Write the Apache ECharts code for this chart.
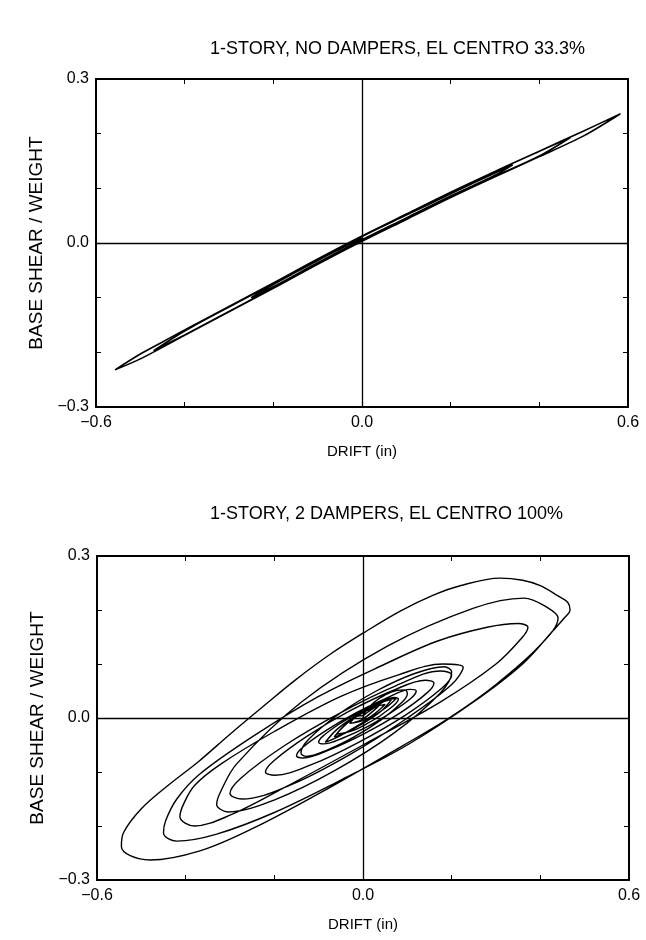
<!DOCTYPE html>
<html><head><meta charset="utf-8">
<script src="https://cdn.jsdelivr.net/npm/echarts@6/dist/echarts.min.js"></script>
<style>html,body{margin:0;padding:0;background:#fff}#c{width:646px;height:940px}</style>
</head><body><div id="c"></div>
<script>
const titleTop = '1-STORY, NO DAMPERS, EL CENTRO 33.3%';
const titleBottom = '1-STORY, 2 DAMPERS, EL CENTRO 100%';
const xName = 'DRIFT (in)';
const yName = 'BASE SHEAR / WEIGHT';
const xTickLabels = {'-0.6':'\u22120.6','0':'0.0','0.6':'0.6'};
const yTickLabels = {'-0.3':'\u22120.3','0':'0.0','0.3':'0.3'};

const topDrift = [0.00,0.10,0.20,0.30,0.40,0.50,0.582,0.50,0.40,0.30,0.20,0.10,0.00,-0.10,-0.20,-0.30,-0.40,-0.50,-0.557,-0.50,-0.45,-0.40,-0.30,-0.20,-0.10,0.00,0.10,0.20,0.30,0.40,0.47,0.40,0.30,0.20,0.10,0.00,-0.10,-0.20,-0.30,-0.40,-0.47,-0.40,-0.30,-0.20,-0.10,0.00,0.10,0.20,0.30,0.34,0.30,0.20,0.10,0.00,-0.10,-0.20,-0.25,-0.20,-0.10,0.00];
const topShear = [0.012,0.052,0.092,0.131,0.168,0.205,0.236,0.196,0.158,0.121,0.083,0.043,0.003,-0.039,-0.083,-0.126,-0.169,-0.212,-0.232,-0.203,-0.181,-0.159,-0.116,-0.073,-0.029,0.013,0.053,0.093,0.131,0.168,0.193,0.159,0.122,0.084,0.044,0.004,-0.038,-0.082,-0.125,-0.168,-0.197,-0.161,-0.117,-0.074,-0.030,0.012,0.051,0.090,0.128,0.143,0.124,0.086,0.046,0.006,-0.036,-0.080,-0.100,-0.076,-0.032,0.009];

const botDrift = [0.00,0.005,0.025,0.05,0.075,0.095,0.10,
 0.088,0.04,-0.02,-0.08,-0.128,-0.14,
 -0.123,-0.055,0.03,0.115,0.183,0.20,
 0.174,0.068,-0.065,-0.198,-0.304,-0.33,
 -0.322,-0.285,-0.138,0.055,0.248,0.363,0.417,0.44,
 0.40,0.30,0.194,0.05,-0.10,-0.25,-0.368,-0.48,-0.525,-0.545,
 -0.54,-0.50,-0.44,-0.37,-0.30,-0.22,-0.15,-0.074,0.00,0.084,0.16,0.219,0.309,0.36,0.40,0.44,0.462,0.467,
 0.455,0.43,0.36,0.25,0.10,-0.05,-0.20,-0.33,-0.42,-0.45,
 -0.445,-0.42,-0.37,-0.25,-0.10,0.05,0.17,0.28,0.35,0.372,
 0.36,0.30,0.175,0.00,-0.18,-0.30,-0.38,-0.413,
 -0.405,-0.38,-0.32,-0.20,-0.05,0.08,0.18,0.226,
 0.20,0.10,-0.03,-0.163,-0.273,-0.30,
 -0.275,-0.175,-0.05,0.075,0.175,0.20,
 0.179,0.095,-0.01,-0.115,-0.199,-0.22,
 -0.201,-0.125,-0.03,0.065,0.141,0.16,
 0.145,0.083,0.005,-0.073,-0.135,-0.15,
 -0.137,-0.083,-0.015,0.053,0.107,0.12,
 0.109,0.065,0.01,-0.045,-0.089,-0.10,
 -0.091,-0.055,-0.01,0.035,0.071,0.08,
 0.045,0.01,-0.025,-0.06,
 -0.033,-0.005,0.023,0.05,
 0.01,-0.03,-0.015,0.00,
 0.03,0.06,0.075,
 0.05,0.00,-0.05,-0.085,
 -0.06,-0.02,0.03,0.065,
 0.04,0.00,-0.04,-0.065,
 -0.04,0.00,0.035,
 0.00,-0.02];
const botShear = [0.00,0.011,0.029,0.043,0.051,0.052,0.045,
 0.029,-0.004,-0.035,-0.059,-0.071,-0.065,
 -0.040,0.007,0.050,0.082,0.095,0.085,
 0.046,-0.029,-0.098,-0.151,-0.174,-0.160,
 -0.138,-0.085,0.030,0.133,0.203,0.222,0.204,0.185,
 0.135,0.062,0.000,-0.070,-0.140,-0.205,-0.246,-0.263,-0.255,-0.238,
 -0.212,-0.168,-0.125,-0.080,-0.030,0.025,0.072,0.118,0.157,0.198,0.228,0.245,0.259,0.255,0.245,0.226,0.214,0.200,
 0.186,0.163,0.100,0.030,-0.050,-0.115,-0.175,-0.215,-0.228,-0.213,
 -0.190,-0.150,-0.105,-0.035,0.040,0.100,0.143,0.168,0.175,0.168,
 0.150,0.100,0.030,-0.050,-0.130,-0.180,-0.200,-0.183,
 -0.160,-0.125,-0.085,-0.025,0.040,0.080,0.100,0.094,
 0.062,0.000,-0.068,-0.124,-0.150,-0.140,
 -0.111,-0.050,0.010,0.060,0.087,0.080,
 0.056,0.005,-0.045,-0.086,-0.106,-0.100,
 -0.079,-0.033,0.013,0.050,0.070,0.065,
 0.047,0.009,-0.028,-0.058,-0.074,-0.070,
 -0.055,-0.023,0.010,0.037,0.053,0.050,
 0.037,0.011,-0.016,-0.037,-0.048,-0.045,
 -0.034,-0.012,0.010,0.028,0.038,0.035,
 0.008,-0.010,-0.024,-0.030,
 -0.008,0.008,0.020,0.025,
 -0.001,-0.010,0.003,0.005,
 0.022,0.035,0.036,
 0.018,-0.008,-0.032,-0.045,
 -0.022,0.002,0.025,0.035,
 0.012,-0.010,-0.028,-0.035,
 -0.012,0.010,0.022,
 -0.002,-0.008];

const FONT = '"Liberation Sans",Arial,sans-serif';
const tickKey = v => String(Math.round(v*10)/10);
function xAxes(gi){
  return [{
    type:'value', gridIndex:gi, min:-0.6, max:0.6, interval:0.2, position:'bottom',
    name:xName, nameLocation:'middle', nameGap:37,
    nameTextStyle:{color:'#000',fontSize:15,fontFamily:FONT},
    axisLine:{onZero:false,lineStyle:{color:'#000',width:2}},
    axisTick:{inside:true,length:5,lineStyle:{color:'#000',width:1}},
    axisLabel:{color:'#000',fontSize:16,fontFamily:FONT,margin:8,showMinLabel:true,showMaxLabel:true,
      formatter:v=>xTickLabels[tickKey(v)]||''},
    splitLine:{show:false}
  },{
    type:'value', gridIndex:gi, min:-0.6, max:0.6, interval:0.2, position:'top',
    axisLine:{onZero:false,lineStyle:{color:'#000',width:2}},
    axisTick:{inside:true,length:5,lineStyle:{color:'#000',width:1}},
    axisLabel:{show:false}, splitLine:{show:false}
  }];
}
function yAxes(gi){
  return [{
    type:'value', gridIndex:gi, min:-0.3, max:0.3, interval:0.1, position:'left',
    name:yName, nameLocation:'middle', nameGap:50, nameRotate:90,
    nameTextStyle:{color:'#000',fontSize:19,fontFamily:FONT},
    axisLine:{onZero:false,lineStyle:{color:'#000',width:2}},
    axisTick:{inside:true,length:5,lineStyle:{color:'#000',width:1}},
    axisLabel:{color:'#000',fontSize:16,fontFamily:FONT,margin:7,showMinLabel:true,showMaxLabel:true,
      formatter:v=>yTickLabels[tickKey(v)]||''},
    splitLine:{show:false}
  },{
    type:'value', gridIndex:gi, min:-0.3, max:0.3, interval:0.1, position:'right',
    axisLine:{onZero:false,lineStyle:{color:'#000',width:2}},
    axisTick:{inside:true,length:5,lineStyle:{color:'#000',width:1}},
    axisLabel:{show:false}, splitLine:{show:false}
  }];
}
const zeroLines = {silent:true,symbol:'none',label:{show:false},
  lineStyle:{color:'#000',width:1.3,type:'solid'},
  data:[{xAxis:0},{yAxis:0}]};

const chart = echarts.init(document.getElementById('c'),null,{renderer:'canvas'});
chart.setOption({
  backgroundColor:'#fff',
  animation:false,
  title:[
    {text:titleTop,left:205,top:35,textStyle:{color:'#000',fontSize:18,fontWeight:'normal',fontFamily:FONT}},
    {text:titleBottom,left:205,top:500,textStyle:{color:'#000',fontSize:18,fontWeight:'normal',fontFamily:FONT}}
  ],
  grid:[
    {left:96,right:18,top:79,height:328},
    {left:97,right:17,top:556,height:324}
  ],
  xAxis:[...xAxes(0),...xAxes(1)],
  yAxis:[...yAxes(0),...yAxes(1)],
  series:[
    {type:'line',xAxisIndex:0,yAxisIndex:0,showSymbol:false,smooth:0.3,
     lineStyle:{color:'#000',width:1.6},
     data:topDrift.map((x,i)=>[x,topShear[i]]),markLine:zeroLines},
    {type:'line',xAxisIndex:2,yAxisIndex:2,showSymbol:false,smooth:0.35,
     lineStyle:{color:'#000',width:1.4},
     data:botDrift.map((x,i)=>[x,botShear[i]]),markLine:zeroLines}
  ]
});
</script></body></html>
